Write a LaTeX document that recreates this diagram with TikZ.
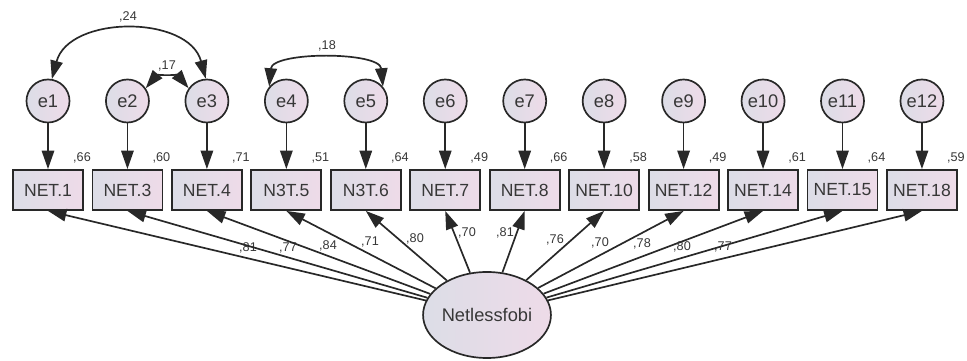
\documentclass[tikz,border=0pt]{standalone}
\usepackage{fontspec}
\setmainfont{Liberation Sans}
\usepackage{tikz}
\usetikzlibrary{arrows.meta,shapes.geometric}
\usepackage{xcolor}
\definecolor{fillL}{RGB}{220,221,231}
\definecolor{fillR}{RGB}{238,219,232}
\definecolor{edge}{RGB}{40,40,40}
\definecolor{txt}{RGB}{55,55,55}

\begin{document}
\begin{tikzpicture}[x=0.025cm,y=0.025cm,>={Triangle[length=4.6mm,width=3.1mm]},
  obs/.style={draw=edge,line width=1.3pt,left color=fillL,right color=fillR,minimum width=1.75cm,minimum height=1cm,inner sep=0pt,font=\fontsize{12.5}{14}\selectfont,text=txt},
  err/.style={circle,draw=edge,line width=1.2pt,left color=fillL,right color=fillR,minimum size=1.075cm,inner sep=0pt,font=\fontsize{13}{15}\selectfont,text=txt},
  coef/.style={font=\fontsize{9}{10}\selectfont,text=txt,inner sep=0pt},
  lnk/.style={->,line width=1.2pt,draw=edge}]
\useasboundingbox (0,0) rectangle (967,361);
\node[ellipse,draw=edge,line width=1.2pt,left color=fillL,right color=fillR,minimum width=2.9cm,minimum height=2.15cm,inner sep=0pt,font=\fontsize{13}{15}\selectfont,text=txt] (lat) at (487,46) {Netlessfobi};
% indicators, errors and loadings
\foreach \nm/\rsq/\ld/\lx/\ly [count=\i] in {NET.1/66/81/248/113, NET.3/60/77/288/113, NET.4/71/84/328/115, N3T.5/51/71/370/119, N3T.6/64/80/415/122, NET.7/49/70/467/128, NET.8/66/81/505/128, NET.10/58/76/555/121, NET.12/49/70/600/118, NET.14/61/78/642/117, NET.15/64/80/682/114, NET.18/59/77/723/114}{
  \pgfmathsetmacro\xx{48+79.45*(\i-1)}
  \node[obs] (x\i) at (\xx,171) {\nm};
  \node[err] (e\i) at (\xx,260) {e\i};
  \node[coef] (r\i) at (\xx+34,203) {,\rsq};
  \draw[lnk] (e\i) -- (x\i);
  \draw[lnk] (lat) -- (x\i.south);
  \node[coef] (l\i) at (\lx,\ly) {,\ld};
}
% covariances
\draw[<->,line width=1.2pt,draw=edge] (e1.80) to[out=75,in=105,looseness=1.1] (e3.93);
\draw[<->,line width=1.2pt,draw=edge] (e2.35) to[bend left=50] (e3.145);
\draw[<->,line width=1.2pt,draw=edge] (e4.140) to[out=85,in=95,looseness=0.8] (e5.40);
\node[coef] (c13) at (128,344) {,24};
\node[coef] (c23) at (167,295) {,17};
\node[coef] (c45) at (327,315) {,18};
\end{tikzpicture}
\end{document}
